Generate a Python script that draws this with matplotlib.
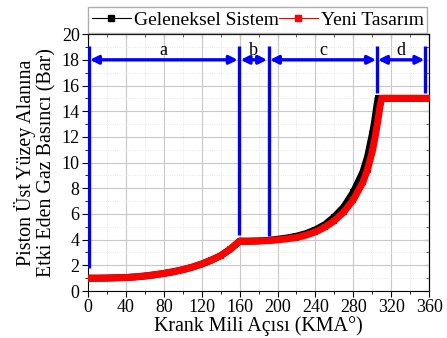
import matplotlib.pyplot as plt
from matplotlib.lines import Line2D
from matplotlib.ticker import MultipleLocator

plt.rcParams['font.family'] = ['Liberation Serif', 'DejaVu Serif']

# krank mili acisi (derece)
angle = [0, 10, 20, 30, 40, 50, 60, 70, 80, 90, 100, 110, 120, 130, 140, 150, 160,
         170, 180, 190, 200, 210, 220, 230, 240, 250, 260, 270, 280, 290, 295, 300,
         302, 304, 306, 308, 310, 320, 330, 340, 350, 360]
# geleneksel sistem (bar)
p_geleneksel = [1.0, 1.0, 1.01, 1.03, 1.05, 1.1, 1.17, 1.26, 1.37, 1.5, 1.66, 1.86, 2.1,
                2.4, 2.75, 3.25, 3.88, 3.88, 3.9, 3.94, 4.03, 4.13, 4.27, 4.47, 4.77,
                5.17, 5.78, 6.55, 7.7, 9.25, 10.45, 12.2, 13.0, 14.0, 15.0, 15.0, 15.0,
                15.0, 15.0, 15.0, 15.0, 15.0]
# yeni tasarim (bar)
p_yeni = [1.0, 1.0, 1.01, 1.03, 1.05, 1.1, 1.17, 1.26, 1.37, 1.5, 1.66, 1.86, 2.1,
          2.4, 2.75, 3.25, 3.88, 3.88, 3.9, 3.92, 3.98, 4.06, 4.16, 4.35, 4.6,
          4.97, 5.47, 6.15, 7.1, 8.45, 9.45, 10.85, 11.6, 12.4, 13.3, 14.3, 15.0,
          15.0, 15.0, 15.0, 15.0, 15.0]

# bolge sinirlari
sinirlar = [1, 159, 191, 305, 356]
bolge_adlari = ['a', 'b', 'c', 'd']
sinir_alt = [1.8, 4.4, 4.3, 15.4, 15.4]

fig = plt.figure(figsize=(4.47, 3.38), dpi=100)
ax = fig.add_axes([0.197, 0.139, 0.763, 0.760])

ax.plot(angle, p_geleneksel, color='black', lw=5, marker='s', ms=5, mew=0, zorder=3)
ax.plot(angle, p_yeni, color='red', lw=5, marker='s', ms=5, mew=0, zorder=4)

# mavi sinir cizgileri
for x, y0 in zip(sinirlar, sinir_alt):
    ax.plot([x, x], [y0, 19.05], color='blue', lw=2.4, solid_capstyle='butt', zorder=5)
for i, ad in enumerate(bolge_adlari):
    x0, x1 = sinirlar[i], sinirlar[i + 1]
    if i == 1:
        x0 = 160
        x1 = 190
    ax.annotate('', xy=(x0 + 1, 18), xytext=(x1 - 1, 18),
                arrowprops=dict(arrowstyle='<|-|>', color='blue', lw=2.4,
                                mutation_scale=12, shrinkA=0, shrinkB=0), zorder=5)
    ax.text((x0 + x1) / 2, 18.1, ad, ha='center', va='bottom', fontsize=13)

ax.set_xlim(0, 360)
ax.set_ylim(0, 20)
ax.xaxis.set_major_locator(MultipleLocator(40))
ax.xaxis.set_minor_locator(MultipleLocator(20))
ax.yaxis.set_major_locator(MultipleLocator(2))
ax.yaxis.set_minor_locator(MultipleLocator(1))
ax.grid(which='major', color='#c8c8c8', lw=0.8)
ax.grid(which='minor', color='#e0e0e0', lw=0.6, ls=':')
ax.set_axisbelow(True)
ax.tick_params(which='both', direction='out', labelsize=13, pad=2)
ax.tick_params(which='major', length=4)
ax.tick_params(which='minor', length=2.5)
ax2 = ax.secondary_xaxis('top')
ax2.xaxis.set_major_locator(MultipleLocator(40))
ax2.xaxis.set_minor_locator(MultipleLocator(20))
ax2.tick_params(which='both', direction='in', labeltop=False)
ax3 = ax.secondary_yaxis('right')
ax3.yaxis.set_major_locator(MultipleLocator(2))
ax3.yaxis.set_minor_locator(MultipleLocator(1))
ax3.tick_params(which='both', direction='in', labelright=False)

ax.set_xlabel('Krank Mili Açısı (KMA°)', fontsize=14.4, labelpad=0)
ax.set_ylabel('Piston Üst Yüzey Alanına\nEtki Eden Gaz Basıncı (Bar)', fontsize=14.4,
              labelpad=4, linespacing=1.05)

handles = [Line2D([], [], color='black', lw=0.8, marker='s', ms=4),
           Line2D([], [], color='red', lw=0.8, marker='s', ms=4)]
ax.legend(handles, ['Geleneksel Sistem', 'Yeni Tasarım'], loc='lower left',
          bbox_to_anchor=(0, 1.005, 0.995, 0.1), mode='expand', ncol=2,
          fontsize=14, frameon=True, fancybox=False, edgecolor='#999999',
          borderaxespad=0, handlelength=2.0, handletextpad=0.15, borderpad=0.2,
          columnspacing=1.0)

fig.savefig('out.png', dpi=100)
